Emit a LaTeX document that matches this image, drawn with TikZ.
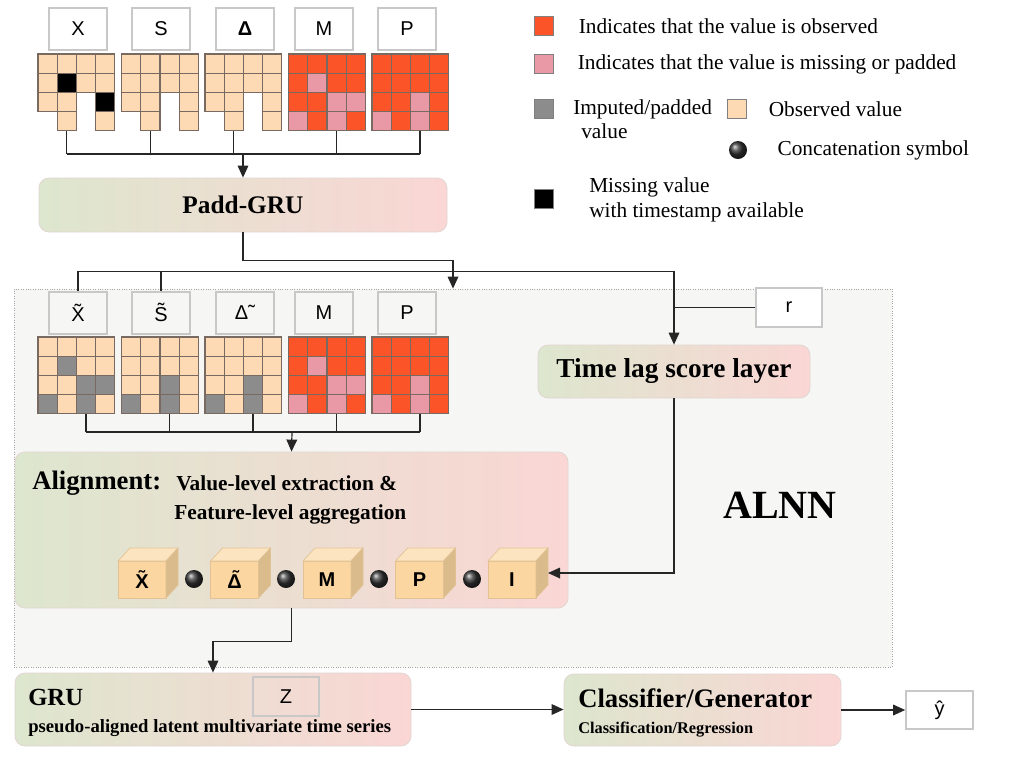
\documentclass[tikz,border=0pt]{standalone}
\usepackage{fontspec}
\setmainfont{Liberation Serif}
\setsansfont{Liberation Sans}
\usepackage{xcolor}
\usetikzlibrary{arrows.meta, positioning}

\definecolor{obsred}{RGB}{251,84,40}
\definecolor{padpink}{RGB}{232,153,165}
\definecolor{impgrey}{RGB}{140,140,140}
\definecolor{obspeach}{RGB}{253,218,180}
\definecolor{cellline}{RGB}{120,106,96}
\definecolor{lblgrey}{RGB}{200,200,200}
\definecolor{grnL}{RGB}{221,230,206}
\definecolor{pnkR}{RGB}{250,214,212}
\definecolor{boxline}{RGB}{226,214,210}
\definecolor{alnnbg}{RGB}{246,246,244}
\definecolor{cubeF}{RGB}{252,214,160}
\definecolor{cubeT}{RGB}{253,228,192}
\definecolor{cubeS}{RGB}{218,187,140}
\definecolor{cubeE}{RGB}{226,194,148}

\tikzset{
    tscell/.style={
      draw=cellline,
      line width=0.9pt,
      minimum size=14.4pt, %one cell, 19.2px
      inner sep=0pt,
    },
    tscell o/.style={fill=obspeach},
    tscell k/.style={fill=black},
    tscell g/.style={fill=impgrey},
    tscell r/.style={fill=obsred},
    tscell p/.style={fill=padpink},
    tscell n/.style={draw=none}, %no value, gap
    lbl/.style={
      draw=lblgrey, line width=1.5pt, fill=white,
      minimum width=43.5pt, minimum height=31.5pt,
      font=\sffamily\fontsize{15}{18}\selectfont,
    },
    block/.style={
      draw=boxline, line width=0.6pt,
      rounded corners=7.5pt,
      left color=grnL, right color=pnkR,
    },
    wire/.style={draw=black!85, line width=0.9pt},
    arr/.style={
      wire,
      -{Triangle[length=9pt,width=8pt]}, %filled head
    },
    legbox/.style={draw=black!50, line width=0.75pt, minimum size=14.25pt, inner sep=0pt},
    legtext/.style={inner sep=0pt, font=\fontsize{16}{18.75}\selectfont},
    concat/.style={circle, inner sep=0pt, minimum size=13.5pt, shading=ball, ball color=black!80},
    cubefront/.style={
      fill=cubeF, draw=cubeE, line width=0.5pt,
      minimum width=36pt, minimum height=27.75pt, inner sep=0pt, outer sep=0pt,
      font=\sffamily\bfseries\fontsize{15}{18}\selectfont,
    },
}

% #1 name, #2 top left corner, #3 cells row by row
\newcommand{\tsgrid}[3]{
  \foreach \gc [count=\gi from 0] in {#3}{
    \pgfmathtruncatemacro{\gx}{mod(\gi,4)}
    \pgfmathtruncatemacro{\gy}{div(\gi,4)}
    \node[tscell, tscell \gc] (#1-\gi) at ([shift={(\gx*19.2+9.6,\gy*19.2+9.6)}]#2) {};
  }
}

% #1 name, #2 centre of front face, #3 label
\newcommand{\tscube}[3]{
  \node[cubefront] (#1) at (#2) {#3};
  \filldraw[fill=cubeT, draw=cubeE, line width=0.5pt] (#1.north west) -- ++(12,-13) -- ++(48,0) -- (#1.north east) -- cycle;
  \filldraw[fill=cubeS, draw=cubeE, line width=0.5pt] (#1.north east) -- ++(12,-13) -- ++(0,37) -- (#1.south east) -- cycle;
}

\begin{document}
\begin{tikzpicture}[x=0.75pt, y=-0.75pt]
  \fill[white] (0,0) rectangle (1010,758);
  \useasboundingbox (0,0) rectangle (1010,758);

  % ALNN frame
  \node[draw=black!35, dash pattern=on 0.6pt off 1.2pt, line width=0.6pt, fill=alnnbg,
        minimum width=658.5pt, minimum height=283.5pt, inner sep=0pt] (alnn) at (453,478) {};
  \node[font=\bfseries\fontsize{30}{32}\selectfont] (alnnt) at (780,505) {ALNN};

  % raw series
  \node[lbl] (lX) at (78,29) {X};
  \node[lbl] (lS) at (161,29) {S};
  \node[lbl] (lD) at (245,29) {\textbf{Δ}};
  \node[lbl] (lM) at (324,29) {M};
  \node[lbl] (lP) at (407,29) {P};
  \tsgrid{X}{38,54}{o,o,o,o,o,k,o,o,o,o,n,k,n,o,n,o}
  \tsgrid{S}{121.5,54}{o,o,o,o,o,o,o,o,o,o,n,o,n,o,n,o}
  \tsgrid{D}{205,54}{o,o,o,o,o,o,o,o,o,o,n,o,n,o,n,o}
  \tsgrid{M}{288.5,54}{r,r,r,r,r,p,r,r,r,r,p,p,p,r,p,r}
  \tsgrid{P}{372,54}{r,r,r,r,r,r,r,r,r,r,p,r,p,r,p,r}

  \node[block, minimum width=306pt, minimum height=40.5pt,
        font=\bfseries\fontsize{19}{22}\selectfont] (padd) at (243,205) {Padd-GRU};

  \coordinate (tjoin) at (243,154);
  \foreach \g in {X-13,S-13,D-13,M-14,P-14}
    \draw[wire] (\g.south) -- (\g.south |- tjoin);
  \draw[wire] (X-13.south |- tjoin) -- (P-14.south |- tjoin);
  \draw[arr] (tjoin) -- (padd);
  \draw[arr] (padd.south) -- ++(0,28) -| (alnn.north);

  % padded series
  \node[lbl, fill=alnnbg] (lXt) at (78,312.5) {X̃};
  \node[lbl, fill=alnnbg] (lSt) at (161,312.5) {S̃};
  \node[lbl, fill=alnnbg] (lDt) at (245,312.5) {Δ˜};
  \node[lbl, fill=alnnbg] (lM2) at (324,312.5) {M};
  \node[lbl, fill=alnnbg] (lP2) at (407,312.5) {P};
  \tsgrid{Xt}{38,337}{o,o,o,o,o,g,o,o,o,o,g,g,g,o,g,o}
  \tsgrid{St}{121.5,337}{o,o,o,o,o,o,o,o,o,o,g,o,g,o,g,o}
  \tsgrid{Dt}{205,337}{o,o,o,o,o,o,o,o,o,o,g,o,g,o,g,o}
  \tsgrid{M2}{288.5,337}{r,r,r,r,r,p,r,r,r,r,p,p,p,r,p,r}
  \tsgrid{P2}{372,337}{r,r,r,r,r,r,r,r,r,r,p,r,p,r,p,r}

  % time lag branch
  \node[block, minimum width=204pt, minimum height=39.75pt,
        font=\bfseries\fontsize{20.5}{24}\selectfont] (tlag) at (674,371.5) {Time lag score layer};
  \node[lbl, minimum width=49.5pt, minimum height=29pt] (rr) at (789,307.5) {r};
  \draw[wire] (lSt.north) -- ++(0,-19);
  \draw[arr] (lXt.north) -- ++(0,-19) -| (tlag.north);
  \draw[wire] (rr.west) -- (rr.west -| tlag.north);

  % alignment
  \node[block, minimum width=414.75pt, minimum height=117pt] (align) at (291.5,530) {};
  \node[anchor=base west, inner sep=0pt, font=\bfseries\fontsize{20}{24}\selectfont] (alignt) at (32,489) {Alignment:};
  \node[anchor=base west, inner sep=0pt, font=\bfseries\fontsize{16}{19}\selectfont] (alignd1) at (176,490) {Value-level extraction \&};
  \node[anchor=base west, inner sep=0pt, font=\bfseries\fontsize{16}{19}\selectfont] (alignd2) at (174,519) {Feature-level aggregation};

  \coordinate (ajoin) at (292,432);
  \foreach \g in {Xt-14,St-14,Dt-14,M2-14,P2-14}
    \draw[wire] (\g.south) -- (\g.south |- ajoin);
  \draw[wire] (Xt-14.south |- ajoin) -- (P2-14.south |- ajoin);
  \draw[arr] (ajoin) -- (align.north);

  \tscube{cX}{142,579.5}{X̃}
  \tscube{cD}{234.5,579.5}{Δ̃}
  \tscube{cM}{327,579.5}{M}
  \tscube{cP}{419.5,579.5}{P}
  \tscube{cI}{512,579.5}{I}
  \node[concat] (k1) at (194,579) {};
  \node[concat] (k2) at (286,579) {};
  \node[concat] (k3) at (379,579) {};
  \node[concat] (k4) at (472,579) {};
  \draw[arr] (tlag.south) |- ([shift={(12,-6.5)}]cI.east);

  % output
  \node[block, minimum width=297pt, minimum height=54.75pt] (gru) at (213,709.5) {};
  \node[anchor=base west, inner sep=0pt, font=\bfseries\fontsize{18.5}{22}\selectfont] (grut) at (28,705) {GRU};
  \node[anchor=base west, inner sep=0pt, font=\bfseries\fontsize{14}{17}\selectfont] (grud) at (28,732) {pseudo-aligned latent multivariate time series};
  \node[lbl, fill=none, minimum width=49.5pt, minimum height=29pt] (zz) at (286,696.5) {Z};
  \draw[arr] (align.south) -- ++(0,33) -| (gru.north);

  \node[block, minimum width=207.75pt, minimum height=54pt] (cls) at (702.5,710) {};
  \node[anchor=base west, inner sep=0pt, font=\bfseries\fontsize{20}{24}\selectfont] (clst) at (578,707) {Classifier/Generator};
  \node[anchor=base west, inner sep=0pt, font=\bfseries\fontsize{12.25}{15}\selectfont] (clsd) at (578,733) {Classification/Regression};
  \node[lbl, minimum width=50pt, minimum height=29pt] (yhat) at (939.5,710) {ŷ};
  \draw[arr] (gru.east) -- (gru.east -| cls.west);
  \draw[arr] (cls.east) -- (yhat.west);

  % legend
  \node[legbox, fill=obsred] (lg1) at (543.5,26) {};
  \node[legtext, right=18.75pt of lg1] (lg1t) {Indicates that the value is observed};
  \node[legbox, fill=padpink] (lg2) at (543.5,64) {};
  \node[legtext, right=18pt of lg2] (lg2t) {Indicates that the value is missing or padded};
  \node[legbox, fill=impgrey] (lg3) at (543.5,109) {};
  \node[legtext, anchor=base west] (lg3t) at (573,114) {Imputed/padded};
  \node[legtext, anchor=base west] (lg3u) at (581,138) {value};
  \node[legbox, fill=obspeach] (lg4) at (736.5,109) {};
  \node[legtext, right=16.5pt of lg4] (lg4t) {Observed value};
  \node[concat] (lgk) at (738,150) {};
  \node[legtext, right=22.5pt of lgk] (lgkt) {Concatenation symbol};
  \node[legbox, fill=black] (lg5) at (543.5,199) {};
  \node[legtext, anchor=base west] (lg5t) at (589,192) {Missing value};
  \node[legtext, anchor=base west] (lg5u) at (589,217) {with timestamp available};
\end{tikzpicture}
\end{document}
